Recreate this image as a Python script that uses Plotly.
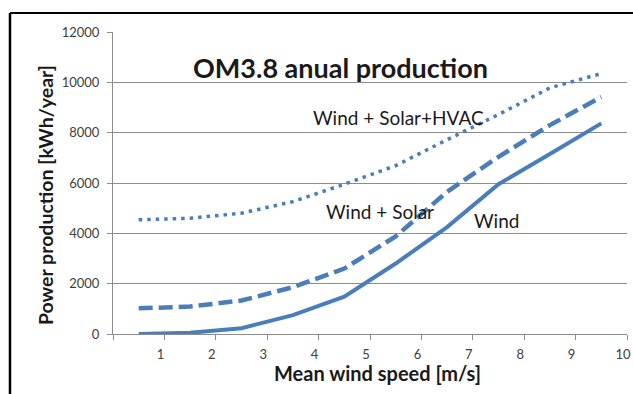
import plotly.graph_objects as go

wind_speed = [0.5, 1.5, 2.5, 3.5, 4.5, 5.5, 6.5, 7.5, 8.5, 9.5]
wind = [0, 50, 230, 750, 1480, 2800, 4250, 5950, 7150, 8370]
wind_solar = [1020, 1090, 1330, 1860, 2600, 3880, 5650, 7040, 8300, 9420]
wind_solar_hvac = [4540, 4600, 4800, 5260, 5950, 6690, 7720, 8720, 9780, 10350]

x_ticks = [0, 1, 2, 3, 4, 5, 6, 7, 8, 9, 10]
x_ticktext = ["", "1", "2", "3", "4", "5", "6", "7", "8", "9", "10"]
y_ticks = [0, 2000, 4000, 6000, 8000, 10000, 12000]
y_ticktext = ["0", "2000", "4000", "6000", "8000", "10000", "12000"]

BLUE = "#4A7EBB"
GRID = "#8C8C8C"
FONT = "Lato"
DARK = "#1a1a1a"

fig = go.Figure()
fig.add_trace(go.Scatter(x=wind_speed, y=wind, mode="lines", name="Wind",
                         line=dict(color=BLUE, width=4)))
fig.add_trace(go.Scatter(x=wind_speed, y=wind_solar, mode="lines", name="Wind + Solar",
                         line=dict(color=BLUE, width=4.5, dash="14px,6px")))
fig.add_trace(go.Scatter(x=wind_speed, y=wind_solar_hvac, mode="lines", name="Wind + Solar+HVAC",
                         line=dict(color=BLUE, width=3.5, dash="3.5px,5px")))

C = dict(xanchor="center", yanchor="middle", showarrow=False)

fig.update_layout(
    width=633, height=394,
    margin=dict(l=113, r=6, t=32, b=60),
    paper_bgcolor="white", plot_bgcolor="white",
    showlegend=False,
    font=dict(family=FONT, color="#404040"),
    xaxis=dict(range=[0, 10], tickvals=x_ticks, ticktext=x_ticktext, automargin=False,
               showgrid=False, zeroline=False, showline=True, linecolor=GRID, linewidth=1,
               ticks="outside", ticklen=5, tickcolor=GRID, ticklabelshift=-4,
               ticklabelstandoff=3,
               tickfont=dict(size=13, color="#404040", family=FONT)),
    yaxis=dict(range=[0, 12000], tickvals=y_ticks, ticktext=y_ticktext, automargin=False,
               showgrid=True, gridcolor=GRID, gridwidth=1, zeroline=False,
               showline=True, linecolor=GRID, linewidth=1,
               ticks="outside", ticklen=5, tickcolor=GRID, ticklabelstandoff=5,
               tickfont=dict(size=13, color="#404040", family=FONT)),
    annotations=[
        dict(text="<b>OM3.8 anual production</b>", x=0.443, y=0.884, xref="paper", yref="paper",
             font=dict(size=27, color=DARK, family=FONT), **C),
        dict(text="Wind + Solar+HVAC", x=5.55, y=8584, xref="x", yref="y",
             font=dict(size=19, color=DARK, family=FONT), **C),
        dict(text="Wind + Solar", x=5.20, y=4850, xref="x", yref="y",
             font=dict(size=19, color=DARK, family=FONT), **C),
        dict(text="Wind", x=7.47, y=4500, xref="x", yref="y",
             font=dict(size=19, color=DARK, family=FONT), **C),
        dict(text="<b>Mean wind speed [m/s]</b>", x=0.5146, y=-0.129, xref="paper", yref="paper",
             font=dict(size=20, color=DARK, family=FONT), **C),
        dict(text="<b>Power production [kWh/year]</b>", x=-0.1323, y=0.46, xref="paper", yref="paper",
             textangle=-90, font=dict(size=19.5, color=DARK, family=FONT), **C),
    ],
    shapes=[
        dict(type="line", xref="paper", yref="paper", x0=-0.2004, x1=-0.2004, y0=1.0629, y1=-0.3,
             line=dict(color="black", width=2.5)),
        dict(type="line", xref="paper", yref="paper", x0=-0.2004, x1=1.1, y0=1.0629, y1=1.0629,
             line=dict(color="black", width=2)),
    ],
)

fig.write_html("out.html", config={"displayModeBar": False},
               post_script="document.body.style.margin='0px';")
